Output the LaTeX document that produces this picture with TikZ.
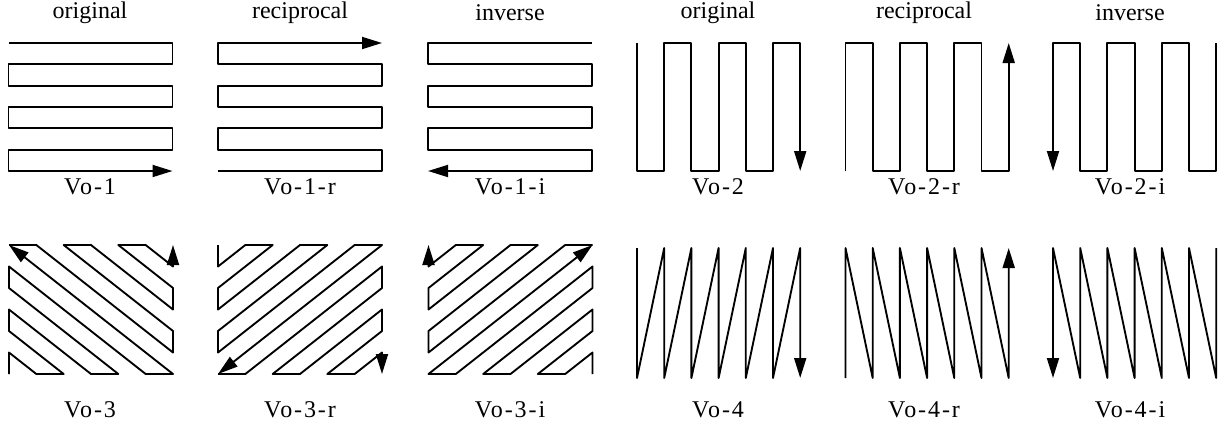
\documentclass[tikz,border=0pt]{standalone}
\usepackage{fontspec}
\setmainfont{Liberation Serif}
\usetikzlibrary{arrows.meta,positioning}

\begin{document}
\begin{tikzpicture}[x=0.75pt,y=-0.75pt,>={Triangle[length=15pt,width=9pt]}]
  \tikzset{
    scan/.style={draw=black,line width=1.4pt,line join=round},
    head/.style={font=\fontsize{18}{20}\selectfont,inner sep=0pt},
    tag/.style={font=\fontsize{18}{20}\selectfont\addfontfeatures{LetterSpace=8},inner sep=0pt},
    cellA/.style={x=20.5pt,y=-16pt},
    cellB/.style={x=20.4pt,y=-16pt},
    cellC/.style={x=20.5pt,y=-16.125pt},
    cellD/.style={x=20.4pt,y=-16.25pt},
  }
  \useasboundingbox (0,0) rectangle (1225,426);

  % column titles
  \node[head] (t1) at (90,13) {original};
  \node[head] (t2) at (300,13) {reciprocal};
  \node[head] (t3) at (510,13) {inverse};
  \node[head] (t4) at (718,13) {original};
  \node[head] (t5) at (924,13) {reciprocal};
  \node[head] (t6) at (1130,13) {inverse};

  % Vo-1
  \begin{scope}[shift={(8.5,43)},cellA]
    \draw[scan,->] (0,0)--(6,0)--(6,1)--(0,1)--(0,2)--(6,2)--(6,3)--(0,3)
      --(0,4)--(6,4)--(6,5)--(0,5)--(0,6)--(6,6);
  \end{scope}
  \begin{scope}[shift={(218,43)},cellA]
    \draw[scan,->] (0,6)--(6,6)--(6,5)--(0,5)--(0,4)--(6,4)--(6,3)--(0,3)
      --(0,2)--(6,2)--(6,1)--(0,1)--(0,0)--(6,0);
  \end{scope}
  \begin{scope}[shift={(428,43)},cellA]
    \draw[scan,->] (6,0)--(0,0)--(0,1)--(6,1)--(6,2)--(0,2)--(0,3)--(6,3)
      --(6,4)--(0,4)--(0,5)--(6,5)--(6,6)--(0,6);
  \end{scope}

  % Vo-2
  \begin{scope}[shift={(637,43)},cellB]
    \draw[scan,->] (0,0)--(0,6)--(1,6)--(1,0)--(2,0)--(2,6)--(3,6)--(3,0)
      --(4,0)--(4,6)--(5,6)--(5,0)--(6,0)--(6,6);
  \end{scope}
  \begin{scope}[shift={(845.5,43)},cellB]
    \draw[scan,->] (0,6)--(0,0)--(1,0)--(1,6)--(2,6)--(2,0)--(3,0)--(3,6)
      --(4,6)--(4,0)--(5,0)--(5,6)--(6,6)--(6,0);
  \end{scope}
  \begin{scope}[shift={(1053,43)},cellB]
    \draw[scan,->] (6,0)--(6,6)--(5,6)--(5,0)--(4,0)--(4,6)--(3,6)--(3,0)
      --(2,0)--(2,6)--(1,6)--(1,0)--(0,0)--(0,6);
  \end{scope}

  \node[tag] (l1) at (90,187) {Vo-1};
  \node[tag] (l2) at (300,187) {Vo-1-r};
  \node[tag] (l3) at (510,187) {Vo-1-i};
  \node[tag] (l4) at (718,187) {Vo-2};
  \node[tag] (l5) at (924,187) {Vo-2-r};
  \node[tag] (l6) at (1130,187) {Vo-2-i};

  % Vo-3
  \begin{scope}[shift={(9,245)},cellC]
    \draw[scan,->] (0,6)--(0,5)--(1,6)--(2,6)--(0,4)--(0,3)--(3,6)--(4,6)
      --(0,2)--(0,1)--(5,6)--(6,6)--(0,0);
    \draw[scan,->] (0,0)--(1,0)--(6,5)--(6,4)--(2,0)--(3,0)--(6,3)--(6,2)
      --(4,0)--(5,0)--(6,1)--(6,0);
  \end{scope}
  \begin{scope}[shift={(218,245)},cellC]
    \draw[scan,->] (0,0)--(0,1)--(1,0)--(2,0)--(0,2)--(0,3)--(3,0)--(4,0)
      --(0,4)--(0,5)--(5,0)--(6,0)--(0,6);
    \draw[scan,->] (0,6)--(1,6)--(6,1)--(6,2)--(2,6)--(3,6)--(6,3)--(6,4)
      --(4,6)--(5,6)--(6,5)--(6,6);
  \end{scope}
  \begin{scope}[shift={(428.5,245)},cellC]
    \draw[scan,->] (6,6)--(6,5)--(5,6)--(4,6)--(6,4)--(6,3)--(3,6)--(2,6)
      --(6,2)--(6,1)--(1,6)--(0,6)--(6,0);
    \draw[scan,->] (6,0)--(5,0)--(0,5)--(0,4)--(4,0)--(3,0)--(0,3)--(0,2)
      --(2,0)--(1,0)--(0,1)--(0,0);
  \end{scope}

  % Vo-4
  \begin{scope}[shift={(637,248)},cellD]
    \draw[scan,->] (0,0)--(0,6)--(1,0)--(1,6)--(2,0)--(2,6)--(3,0)--(3,6)
      --(4,0)--(4,6)--(5,0)--(5,6)--(6,0)--(6,6);
  \end{scope}
  \begin{scope}[shift={(845.5,248)},cellD]
    \draw[scan,->] (0,6)--(0,0)--(1,6)--(1,0)--(2,6)--(2,0)--(3,6)--(3,0)
      --(4,6)--(4,0)--(5,6)--(5,0)--(6,6)--(6,0);
  \end{scope}
  \begin{scope}[shift={(1053,248)},cellD]
    \draw[scan,->] (6,0)--(6,6)--(5,0)--(5,6)--(4,0)--(4,6)--(3,0)--(3,6)
      --(2,0)--(2,6)--(1,0)--(1,6)--(0,0)--(0,6);
  \end{scope}

  \node[tag] (l7) at (90,410) {Vo-3};
  \node[tag] (l8) at (300,410) {Vo-3-r};
  \node[tag] (l9) at (510,410) {Vo-3-i};
  \node[tag] (l10) at (718,410) {Vo-4};
  \node[tag] (l11) at (924,410) {Vo-4-r};
  \node[tag] (l12) at (1130,410) {Vo-4-i};
\end{tikzpicture}
\end{document}
